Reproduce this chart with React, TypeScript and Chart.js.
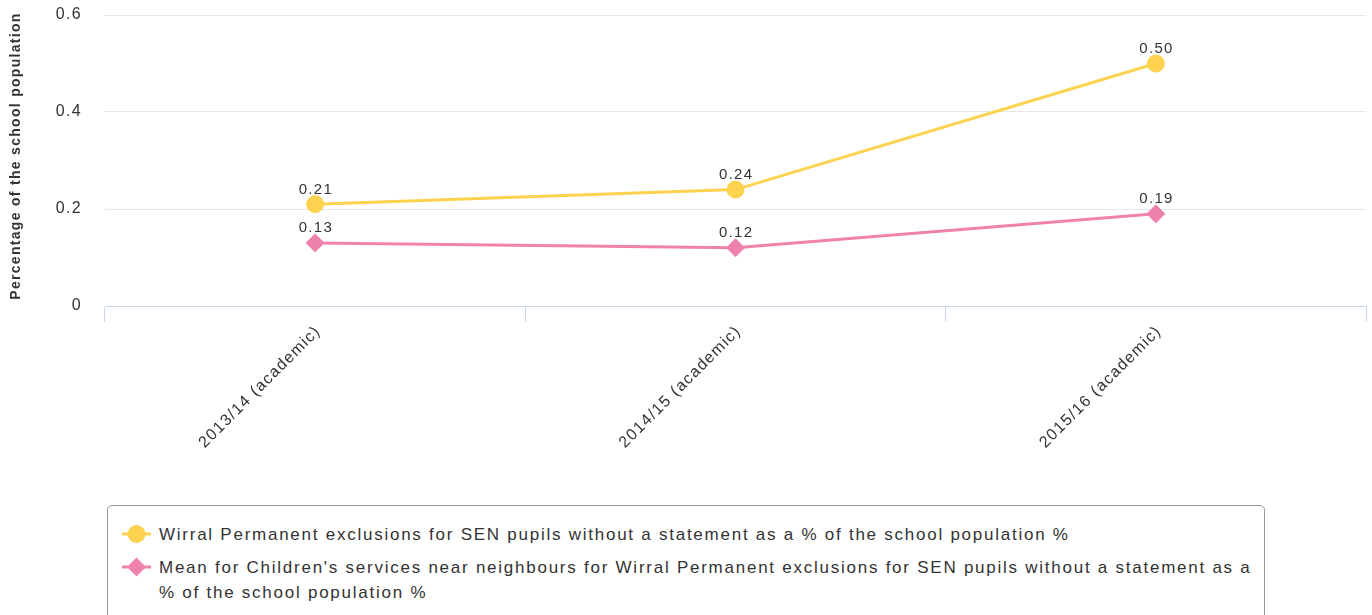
import React, { useEffect, useRef } from "react";
import { Chart, registerables } from "chart.js";

Chart.register(...registerables);

const categories = ["2013/14 (academic)", "2014/15 (academic)", "2015/16 (academic)"];
const wirralValues = [0.21, 0.24, 0.5];
const neighbourValues = [0.13, 0.12, 0.19];
const yTickValues = [0, 0.2, 0.4, 0.6];
const seriesNames = [
  "Wirral Permanent exclusions for SEN pupils without a statement as a % of the school population %",
  "Mean for Children's services near neighbours for Wirral Permanent exclusions for SEN pupils without a statement as a % of the school population %",
];
const yTitle = "Percentage of the school population";

const YELLOW = "#fdd24e";
const PINK = "#ee82ad";
const TEXT = "#333333";
const FONT = "'Liberation Sans', Arial, sans-serif";
const CANVAS_W = 1372;
const CANVAS_H = 480;
const PLOT_BOTTOM = 306;
const PLOT_LEFT = 105;
const SPACING = "1.3px";

const spacingPlugin = {
  id: "letterSpacing",
  beforeUpdate(chart: any) {
    chart.ctx.letterSpacing = SPACING;
  },
  beforeLayout(chart: any) {
    chart.ctx.letterSpacing = SPACING;
  },
  beforeDraw(chart: any) {
    chart.ctx.letterSpacing = SPACING;
  },
};

const valueLabelPlugin = {
  id: "valueLabels",
  afterDatasetsDraw(chart: any) {
    const ctx = chart.ctx;
    ctx.save();
    ctx.letterSpacing = SPACING;
    ctx.font = `15px ${FONT}`;
    ctx.fillStyle = TEXT;
    ctx.textAlign = "center";
    ctx.textBaseline = "alphabetic";
    chart.data.datasets.forEach((ds: any, i: number) => {
      const meta = chart.getDatasetMeta(i);
      meta.data.forEach((pt: any, j: number) => {
        ctx.fillText(Number(ds.data[j]).toFixed(2), pt.x + 0.7, pt.y - 10.5);
      });
    });
    ctx.restore();
  },
};

const yTitlePlugin = {
  id: "yTitle",
  afterDraw(chart: any) {
    const ctx = chart.ctx;
    ctx.save();
    ctx.letterSpacing = SPACING;
    ctx.font = `bold 14px ${FONT}`;
    ctx.fillStyle = TEXT;
    ctx.textAlign = "center";
    ctx.textBaseline = "middle";
    ctx.translate(16.5, 156);
    ctx.rotate(-Math.PI / 2);
    ctx.fillText(yTitle, 0, 0);
    ctx.restore();
  },
};

function LegendSymbol({ color, shape }: { color: string; shape: "circle" | "diamond" }) {
  return (
    <svg width={34} height={22} style={{ display: "block" }}>
      <line x1={2} y1={11} x2={31} y2={11} stroke={color} strokeWidth={3} />
      {shape === "circle" ? (
        <circle cx={16.5} cy={11} r={9} fill={color} />
      ) : (
        <polygon points="16.5,1.5 26,11 16.5,20.5 7,11" fill={color} />
      )}
    </svg>
  );
}

export default function App() {
  const canvasRef = useRef<HTMLCanvasElement | null>(null);

  useEffect(() => {
    if (!canvasRef.current) return;
    const chart = new Chart(canvasRef.current, {
      type: "line",
      data: {
        labels: categories,
        datasets: [
          {
            label: seriesNames[0],
            data: wirralValues,
            borderColor: YELLOW,
            backgroundColor: YELLOW,
            borderWidth: 3,
            pointStyle: "circle",
            pointRadius: 8.5,
            pointHoverRadius: 8.5,
            pointBorderWidth: 1,
            pointBorderColor: YELLOW,
            pointBackgroundColor: YELLOW,
            tension: 0,
            fill: false,
          },
          {
            label: seriesNames[1],
            data: neighbourValues,
            borderColor: PINK,
            backgroundColor: PINK,
            borderWidth: 3,
            pointStyle: "rectRot",
            pointRadius: 9,
            pointHoverRadius: 9,
            pointBorderWidth: 1,
            pointBorderColor: PINK,
            pointBackgroundColor: PINK,
            tension: 0,
            fill: false,
          },
        ],
      },
      options: {
        responsive: false,
        animation: false,
        events: [],
        layout: { autoPadding: false, padding: { top: 15, right: 6, left: 0, bottom: 0 } },
        plugins: {
          legend: { display: false },
          tooltip: { enabled: false },
        },
        scales: {
          x: {
            type: "category",
            offset: true,
            grid: {
              offset: true,
              drawOnChartArea: false,
              drawTicks: true,
              tickLength: 16,
              color: "#ccd6eb",
              lineWidth: 1,
            },
            border: { display: true, color: "#ccd6eb", width: 1 },
            ticks: {
              minRotation: 45,
              maxRotation: 45,
              autoSkip: false,
              padding: 0,
              labelOffset: 3,
              color: TEXT,
              font: { family: FONT, size: 16 },
            },
            afterFit: (s: any) => {
              s.height = CANVAS_H - PLOT_BOTTOM;
              s.paddingLeft = 0;
              s.paddingRight = 0;
            },
          },
          y: {
            min: 0,
            max: 0.6,
            afterBuildTicks: (s: any) => {
              s.ticks = yTickValues.map((v) => ({ value: v }));
            },
            grid: {
              color: (c: any) => (c.tick && c.tick.value === 0 ? "rgba(0,0,0,0)" : "#e6e6e6"),
              drawTicks: false,
              lineWidth: 1,
            },
            border: { display: false },
            ticks: {
              padding: 23,
              color: TEXT,
              font: { family: FONT, size: 16 },
              callback: (v: any) => String(Math.round(Number(v) * 10) / 10),
            },
            title: { display: false },
            afterFit: (s: any) => {
              s.width = PLOT_LEFT;
              s.paddingTop = 0;
              s.paddingBottom = 0;
            },
          },
        },
      } as any,
      plugins: [spacingPlugin, valueLabelPlugin, yTitlePlugin] as any,
    });
    return () => chart.destroy();
  }, []);

  const textStyle: React.CSSProperties = {
    position: "absolute",
    left: 159,
    width: 1110,
    fontFamily: FONT,
    fontSize: 17,
    lineHeight: "25px",
    letterSpacing: "1.75px",
    color: TEXT,
    whiteSpace: "normal",
  };

  return (
    <div
      style={{
        position: "absolute",
        left: 0,
        top: 0,
        width: CANVAS_W,
        height: 615,
        overflow: "hidden",
        background: "#ffffff",
      }}
    >
      <canvas
        ref={canvasRef}
        width={CANVAS_W}
        height={CANVAS_H}
        style={{ position: "absolute", left: 0, top: 0, width: CANVAS_W, height: CANVAS_H }}
      />
      <div
        style={{
          position: "absolute",
          left: 107,
          top: 505,
          width: 1158,
          height: 130,
          border: "1px solid #999999",
          borderRadius: 5,
          boxSizing: "border-box",
        }}
      />
      <div style={{ position: "absolute", left: 120, top: 523 }}>
        <LegendSymbol color={YELLOW} shape="circle" />
      </div>
      <div style={{ ...textStyle, top: 521.5 }}>{seriesNames[0]}</div>
      <div style={{ position: "absolute", left: 120, top: 555.5 }}>
        <LegendSymbol color={PINK} shape="diamond" />
      </div>
      <div style={{ ...textStyle, top: 554.5 }}>{seriesNames[1]}</div>
    </div>
  );
}
